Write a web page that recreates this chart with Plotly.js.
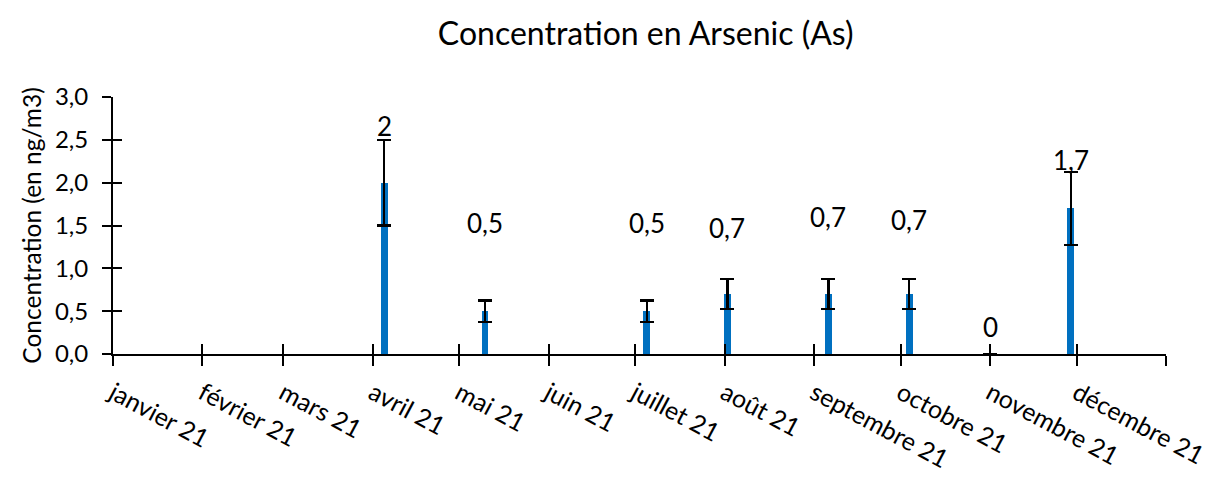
<!DOCTYPE html>
<html>
<head>
<meta charset="utf-8">
<script src="https://cdn.plot.ly/plotly-3.0.1.min.js"></script>
<style>html,body{margin:0;padding:0;background:#fff;}#chart{width:1216px;height:478px;}</style>
</head>
<body>
<div id="chart"></div>
<script>
// Data
const sampleDates = ['2021-04-05','2021-05-10','2021-07-05','2021-08-02','2021-09-06','2021-10-04','2021-11-01','2021-11-29'];
const concentrations = [2.0, 0.5, 0.5, 0.7, 0.7, 0.7, 0, 1.7];
const valueLabels = ['2','0,5','0,5','0,7','0,7','0,7','0','1,7'];
const labelHeights = [2.66, 1.53, 1.53, 1.47, 1.60, 1.56, 0.32, 2.26];
const errorPercent = 25;
const monthTicks = ['2021-01-01','2021-02-01','2021-03-01','2021-04-01','2021-05-01','2021-06-01','2021-07-01','2021-08-01','2021-09-01','2021-10-01','2021-11-01','2021-12-01','2022-01-01'];
const monthLabels = ['janvier 21','février 21','mars 21','avril 21','mai 21','juin 21','juillet 21','août 21','septembre 21','octobre 21','novembre 21','décembre 21',''];

const FONT = 'Lato, "Open Sans", sans-serif';
const DAY = 86400000;

const traces = [
  {
    type: 'bar',
    x: sampleDates,
    y: concentrations,
    width: sampleDates.map(() => 2.3 * DAY),
    marker: {color: '#0070C0', line: {width: 0}},
    error_y: {type: 'percent', value: errorPercent, visible: true, color: '#000', thickness: 2.2, width: 7},
    hoverinfo: 'x+y',
    showlegend: false
  },
  {type: 'scatter', x: [], y: [], xaxis: 'x2', yaxis: 'y2', showlegend: false, hoverinfo: 'skip'}
];

const annotations = sampleDates.map((d, i) => ({
  x: d, y: labelHeights[i], xref: 'x', yref: 'y',
  text: valueLabels[i], showarrow: false,
  font: {family: FONT, size: 26, color: '#000'}
}));

const layout = {
  width: 1216, height: 478,
  margin: {l: 113, r: 50, t: 97, b: 124},
  paper_bgcolor: '#fff', plot_bgcolor: '#fff',
  separators: ', ',
  font: {family: FONT, color: '#000'},
  title: {text: 'Concentration en Arsenic (As)', x: 0.531, xanchor: 'center', y: 0.93, yanchor: 'middle', font: {family: FONT, size: 32, color: '#000'}},
  bargap: 0,
  xaxis: {
    type: 'date', range: ['2021-01-01', '2022-01-01'],
    tickmode: 'array', tickvals: monthTicks, ticktext: monthLabels,
    tickangle: 28, ticks: 'outside', ticklen: 10, tickwidth: 2, tickcolor: '#000',
    ticklabelstandoff: 3,
    showline: true, linecolor: '#000', linewidth: 2, showgrid: false, zeroline: false,
    tickfont: {family: FONT, size: 25, color: '#000'}, fixedrange: true
  },
  xaxis2: {
    type: 'date', range: ['2021-01-01', '2022-01-01'], overlaying: 'x', anchor: 'y2', side: 'bottom',
    tickmode: 'array', tickvals: monthTicks, ticks: 'inside', ticklen: 10, tickwidth: 2, tickcolor: '#000',
    showticklabels: false, showline: false, showgrid: false, zeroline: false
  },
  yaxis: {
    range: [0, 3], dtick: 0.5, tick0: 0, tickformat: '.1f',
    ticks: 'outside', ticklen: 9, tickwidth: 2, tickcolor: '#000',
    ticklabelstandoff: 9,
    showline: true, linecolor: '#000', linewidth: 2, showgrid: false, zeroline: false,
    tickfont: {family: FONT, size: 24, color: '#000'},
    title: {text: 'Concentration (en ng/m3)', font: {family: FONT, size: 24.5, color: '#000'}, standoff: 6},
    fixedrange: true
  },
  yaxis2: {
    range: [0, 3], dtick: 0.5, tick0: 0, overlaying: 'y', anchor: 'x2', side: 'left',
    ticks: 'inside', ticklen: 9, tickwidth: 2, tickcolor: '#000',
    showticklabels: false, showline: false, showgrid: false, zeroline: false
  },
  annotations: annotations
};

Plotly.newPlot('chart', traces, layout, {displayModeBar: false, staticPlot: true});
</script>
</body>
</html>
